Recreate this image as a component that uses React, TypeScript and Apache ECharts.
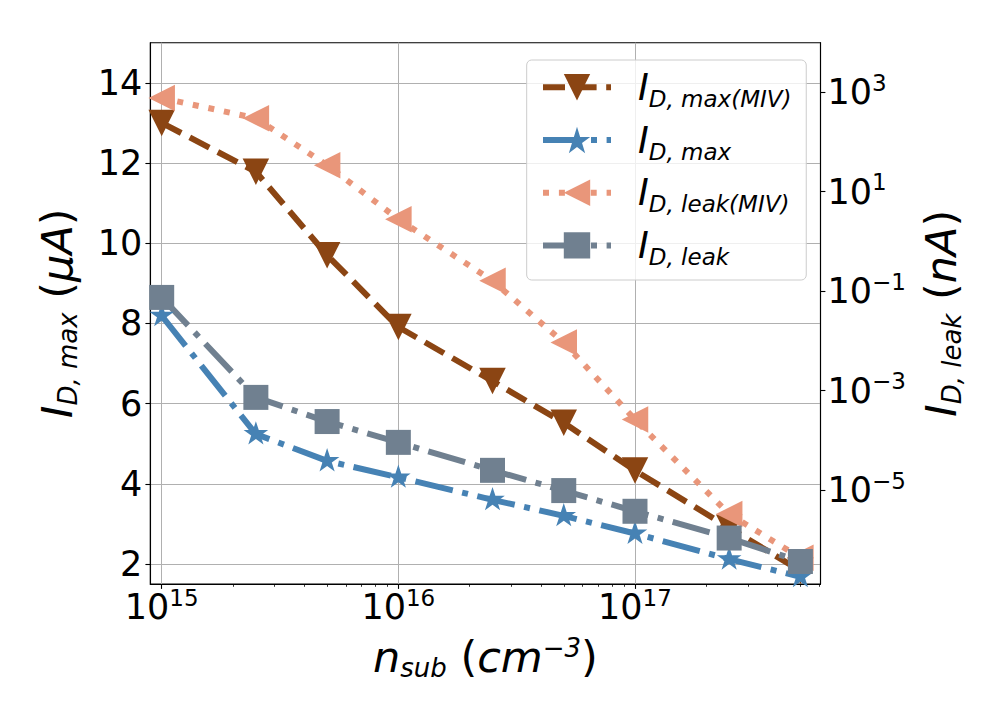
import React, { useEffect, useRef } from 'react';
import * as echarts from 'echarts';

// ---- data ----
const nSub = [1e15, 2.5e15, 5e15, 1e16, 2.5e16, 5e16, 1e17, 2.5e17, 5e17];
const idMaxMIV = [13.0, 11.78, 9.7, 7.91, 6.56, 5.52, 4.33, 2.9, 1.83]; // uA, left axis
const idMax = [8.19, 5.24, 4.57, 4.16, 3.6, 3.2, 2.76, 2.12, 1.68]; // uA, left axis
const idLeakMIV = [758, 297, 33.7, 2.79, 0.161, 0.00923, 2.62e-4, 3.31e-6, 4.36e-7]; // nA, right axis
const idLeak = [0.0746, 7.31e-4, 2.39e-4, 9.12e-5, 2.5e-5, 9.8e-6, 3.76e-6, 1.09e-6, 3.68e-7]; // nA, right axis

// ---- ticks ----
const xMajorExponents = [15, 16, 17];
const xMinorMultipliers = [2, 3, 4, 5, 6, 7, 8, 9];
const leftTicks = [2, 4, 6, 8, 10, 12, 14];
const rightExponents = [-5, -3, -1, 1, 3];

const FONT = 'DejaVu Sans';
const STAR =
  'path://M0,-1000L224.5,-309L951.1,-309L363.3,118L587.8,809L0,382L-587.8,809L-363.3,118L-951.1,-309L-224.5,-309Z';

const xMajor = xMajorExponents.map((e) => Math.pow(10, e));
const xMinor: number[] = [];
xMajorExponents.forEach((e) => {
  xMinorMultipliers.forEach((m) => {
    const v = m * Math.pow(10, e);
    if (v <= 6.08e17) xMinor.push(v);
  });
});
const rightTicks = rightExponents.map((e) => Math.pow(10, e));

const supFmt = (v: number) => {
  const e = Math.round(Math.log10(v));
  const s = e < 0 ? '\u2212' + Math.abs(e) : String(e);
  return '{b|10}{p|' + s + '}';
};

const tickRich = {
  b: { fontFamily: FONT, fontSize: 35, lineHeight: 40, color: '#000' },
  p: { fontFamily: FONT, fontSize: 23, lineHeight: 25, padding: [0, 0, 19, 0], color: '#000' },
};

const nameRich = {
  m: { fontFamily: FONT, fontStyle: 'italic', fontSize: 43, lineHeight: 50, color: '#000' },
  u: { fontFamily: FONT, fontSize: 43, lineHeight: 50, color: '#000' },
  s: { fontFamily: FONT, fontStyle: 'italic', fontSize: 26, lineHeight: 28, padding: [22, 0, 0, 0], color: '#000' },
  p: { fontFamily: FONT, fontStyle: 'italic', fontSize: 26, lineHeight: 28, padding: [0, 0, 18, 0], color: '#000' },
};

const legendLabels: Record<string, string> = {
  'I_D,max(MIV)': '{m|I}{s|D, max(MIV)}',
  'I_D,max': '{m|I}{s|D, max}',
  'I_D,leak(MIV)': '{m|I}{s|D, leak(MIV)}',
  'I_D,leak': '{m|I}{s|D, leak}',
};

const BROWN = '#8B4513';
const BLUE = '#4682B4';
const SALMON = '#E9967A';
const SLATE = '#708090';

const pairs = (ys: number[]) => nSub.map((x, i) => [x, ys[i]]);

const option: any = {
  animation: false,
  backgroundColor: '#ffffff',
  textStyle: { fontFamily: FONT },
  grid: {
    left: 150.3,
    right: 187.5,
    top: 42.7,
    bottom: 136,
    show: true,
    borderColor: '#000',
    borderWidth: 1.1,
    backgroundColor: 'transparent',
    containLabel: false,
    outerBoundsMode: 'none',
  },
  legend: {
    orient: 'vertical',
    left: 526.7,
    top: 60,
    itemWidth: 68,
    itemHeight: 33,
    itemGap: 6.7,
    padding: [4.3, 14.7, 11.6, 13.3],
    backgroundColor: 'rgba(255,255,255,0.8)',
    borderColor: '#cccccc',
    borderWidth: 1,
    borderRadius: 5,
    selectedMode: false,
    lineStyle: { width: 6, cap: 'butt' },
    formatter: (name: string) => legendLabels[name] || name,
    textStyle: {
      color: '#000',
      rich: {
        m: { fontFamily: FONT, fontStyle: 'italic', fontSize: 36.6, lineHeight: 48, padding: [0, 0, 0, 22], color: '#000' },
        s: { fontFamily: FONT, fontStyle: 'italic', fontSize: 23, lineHeight: 25, padding: [23, 0, 0, 0], color: '#000' },
      },
    },
    data: ['I_D,max(MIV)', 'I_D,max', 'I_D,leak(MIV)', 'I_D,leak'],
  },
  xAxis: [
    {
      type: 'log',
      logBase: 10,
      min: 8.95e14,
      max: 6.08e17,
      position: 'bottom',
      name: '{m|n}{s|sub}{u| (}{m|cm}{p|\u22123}{u|)}',
      nameLocation: 'middle',
      nameGap: 48,
      nameTextStyle: { rich: nameRich },
      axisLine: { show: true, onZero: false, lineStyle: { color: '#000', width: 1.1 } },
      axisTick: { show: true, customValues: xMajor, length: 4.9, lineStyle: { color: '#000', width: 1.1 } },
      axisLabel: { show: true, customValues: xMajor, formatter: supFmt, rich: tickRich, margin: 3 },
      splitLine: { show: true, lineStyle: { color: '#b0b0b0', width: 1 } },
      minorTick: { show: false },
    },
    {
      type: 'log',
      logBase: 10,
      min: 8.95e14,
      max: 6.08e17,
      position: 'bottom',
      axisLine: { show: false },
      axisTick: { show: true, customValues: xMinor, length: 2.8, lineStyle: { color: '#000', width: 0.8 } },
      axisLabel: { show: false },
      splitLine: { show: false },
    },
  ],
  yAxis: [
    {
      type: 'value',
      min: 1.5,
      max: 15,
      splitNumber: 7,
      position: 'left',
      name: '{m|I}{s|D, max}{u| (}{m|\u03bcA}{u|)}',
      nameLocation: 'middle',
      nameRotate: 90,
      nameGap: 68,
      nameTextStyle: { rich: nameRich },
      axisLine: { show: true, onZero: false, lineStyle: { color: '#000', width: 1.1 } },
      axisTick: { show: true, customValues: leftTicks, length: 4.9, lineStyle: { color: '#000', width: 1.1 } },
      axisLabel: { show: true, customValues: leftTicks, fontFamily: FONT, fontSize: 35, color: '#000', margin: 8 },
      splitLine: { show: true, lineStyle: { color: '#b0b0b0', width: 1 } },
    },
    {
      type: 'log',
      logBase: 10,
      min: 1.3e-7,
      max: 9.8e3,
      position: 'right',
      name: '{m|I}{s|D, leak}{u| (}{m|nA}{u|)}',
      nameLocation: 'middle',
      nameRotate: 90,
      nameGap: 93,
      nameTextStyle: { rich: nameRich },
      axisLine: { show: true, onZero: false, lineStyle: { color: '#000', width: 1.1 } },
      axisTick: { show: true, customValues: rightTicks, length: 4.9, lineStyle: { color: '#000', width: 1.1 } },
      axisLabel: { show: true, customValues: rightTicks, formatter: supFmt, rich: tickRich, margin: 7 },
      splitLine: { show: false },
    },
  ],
  series: [
    {
      name: 'I_D,max(MIV)',
      type: 'line',
      xAxisIndex: 0,
      yAxisIndex: 0,
      data: pairs(idMaxMIV),
      symbol: 'triangle',
      symbolRotate: 180,
      symbolSize: 26.5,
      lineStyle: { color: BROWN, width: 6, type: [22, 9.6], cap: 'butt', join: 'round' },
      itemStyle: { color: BROWN },
      emphasis: { disabled: true },
      silent: true,
    },
    {
      name: 'I_D,max',
      type: 'line',
      xAxisIndex: 0,
      yAxisIndex: 0,
      data: pairs(idMax),
      symbol: STAR,
      symbolSize: [24.6, 23.4],
      symbolOffset: [0, -1.2],
      lineStyle: { color: BLUE, width: 6, type: [38.4, 9.6, 6, 9.6], cap: 'butt', join: 'round' },
      itemStyle: { color: BLUE },
      emphasis: { disabled: true },
      silent: true,
    },
    {
      name: 'I_D,leak(MIV)',
      type: 'line',
      xAxisIndex: 0,
      yAxisIndex: 1,
      data: pairs(idLeakMIV),
      symbol: 'triangle',
      symbolRotate: 90,
      symbolSize: 26.5,
      lineStyle: { color: SALMON, width: 6, type: [6, 9.9], cap: 'butt', join: 'round' },
      itemStyle: { color: SALMON },
      emphasis: { disabled: true },
      silent: true,
    },
    {
      name: 'I_D,leak',
      type: 'line',
      xAxisIndex: 0,
      yAxisIndex: 1,
      data: pairs(idLeak),
      symbol: 'rect',
      symbolSize: 25,
      lineStyle: { color: SLATE, width: 6, type: [38.4, 9.6, 6, 9.6], cap: 'butt', join: 'round' },
      itemStyle: { color: SLATE },
      emphasis: { disabled: true },
      silent: true,
    },
  ],
};

export default function App() {
  const ref = useRef<HTMLDivElement>(null);
  useEffect(() => {
    const chart = echarts.init(ref.current as HTMLDivElement, undefined, {
      renderer: 'svg',
      width: 1008,
      height: 720,
    });
    chart.setOption(option);
    return () => chart.dispose();
  }, []);
  return (
    <div
      ref={ref}
      style={{ position: 'fixed', left: 0, top: 0, width: 1008, height: 720, background: '#fff' }}
    />
  );
}
